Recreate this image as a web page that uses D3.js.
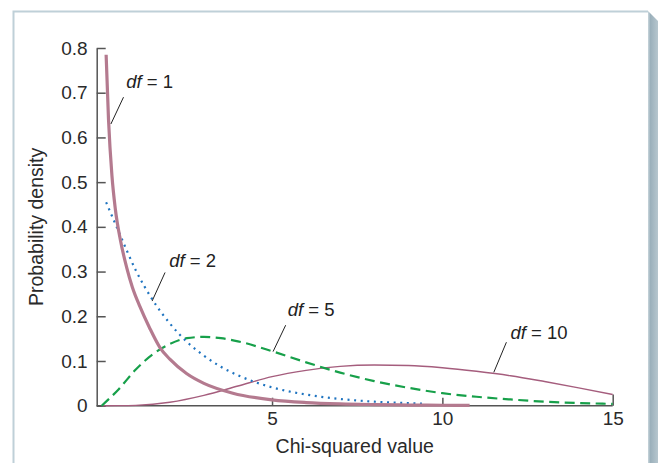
<!DOCTYPE html>
<html>
<head>
<meta charset="utf-8">
<script src="https://cdn.jsdelivr.net/npm/d3@7"></script>
<style>
  html, body { margin: 0; padding: 0; background: #fff; }
  svg { display: block; font-family: "Liberation Sans", Arial, Helvetica, sans-serif; }
</style>
</head>
<body>
<svg id="chart" width="658" height="463"></svg>
<script>
// Chi-squared densities for four degrees of freedom
const df1X = [0.13, 0.2, 0.3, 0.4, 0.55, 0.73, 0.9, 1.12, 1.4, 1.71, 2.0, 2.49, 3.0, 3.85, 5.0, 6, 7, 8, 9, 10, 10.8];
const df1Y = [0.785, 0.64, 0.515, 0.44, 0.37, 0.31, 0.265, 0.222, 0.175, 0.13, 0.104, 0.072, 0.05, 0.028, 0.013, 0.007, 0.004, 0.0025, 0.0015, 0.001, 0.0007];

const df2X = [0.13, 0.5, 1, 1.5, 2, 2.5, 3, 3.5, 4, 5, 6, 7, 8, 9, 9.4];
const df2Y = [0.455, 0.389, 0.303, 0.236, 0.184, 0.143, 0.112, 0.087, 0.068, 0.041, 0.025, 0.015, 0.009, 0.0056, 0.0045];

const df5X = [0, 0.5, 1, 1.5, 2, 2.5, 3, 3.5, 4, 5, 6, 7, 8, 9, 10, 11, 12, 13, 14, 15];
const df5Y = [0, 0.037, 0.081, 0.115, 0.138, 0.151, 0.154, 0.151, 0.144, 0.122, 0.097, 0.074, 0.055, 0.040, 0.028, 0.020, 0.014, 0.009, 0.006, 0.004];

const df10X = [0, 0.5, 1, 2, 3, 4, 5, 6, 7, 8, 9, 10, 11, 12, 13, 14, 15];
const df10Y = [0, 0.0001, 0.0008, 0.0077, 0.023, 0.044, 0.065, 0.079, 0.088, 0.091, 0.09, 0.085, 0.077, 0.067, 0.054, 0.04, 0.025];

const xTicks = [5, 10, 15];
const yTicks = [0, 0.1, 0.2, 0.3, 0.4, 0.5, 0.6, 0.7, 0.8];

// label text, label anchor (data units) and leader end on the curve (data units)
const labelNames = ["1", "2", "5", "10"];
const labelAt = [[0.72, 0.71], [1.98, 0.31], [5.46, 0.2], [12.0, 0.15]];
const leaderFrom = [[0.64, 0.69], [1.86, 0.298], [5.4, 0.18], [11.88, 0.142]];
const leaderTo = [[0.27, 0.63], [1.48, 0.234], [5.03, 0.121], [11.51, 0.0747]];

const svg = d3.select("#chart");

// panel frame
const defs = svg.append("defs");
const grad = defs.append("linearGradient").attr("id", "shade").attr("x1", 0).attr("x2", 1).attr("y1", 0).attr("y2", 0);
grad.append("stop").attr("offset", "0%").attr("stop-color", "#c9d6dc");
grad.append("stop").attr("offset", "25%").attr("stop-color", "#9bb0bb");
grad.append("stop").attr("offset", "100%").attr("stop-color", "#b6c6ce");
svg.append("path")
  .attr("d", "M648,11 L658,21 L658,463 L648,463 Z")
  .attr("fill", "url(#shade)");
svg.append("path")
  .attr("d", "M13.5,463 L13.5,11.5 L648,11.5")
  .attr("fill", "none").attr("stroke", "#bfd0d8").attr("stroke-width", 2);

const x = d3.scaleLinear().domain([0, 15]).range([101.7, 612.7]);
const y = d3.scaleLinear().domain([0, 0.8]).range([405.7, 48]);
const axisLeftX = 96.7;
const tickFont = 19;

// y axis
const yAxis = svg.append("g")
  .attr("transform", `translate(${axisLeftX},0)`)
  .call(d3.axisLeft(y).tickValues(yTicks).tickSizeInner(-9).tickSizeOuter(0).tickPadding(9)
    .tickFormat(d => d === 0 ? "0" : d3.format(".1f")(d)));
yAxis.select(".domain").attr("stroke", "#555").attr("stroke-width", 1.5);
yAxis.selectAll(".tick line").attr("stroke", "#555").attr("stroke-width", 1.5);
yAxis.selectAll(".tick text").attr("font-size", tickFont).attr("fill", "#2a2a2a")
  .attr("font-family", "Liberation Sans, Arial, sans-serif");

// x axis
const xAxis = svg.append("g")
  .attr("transform", `translate(0,${y(0)})`)
  .call(d3.axisBottom(x).tickValues(xTicks).tickSizeInner(-8).tickSizeOuter(0).tickPadding(5.8)
    .tickFormat(d3.format("d")));
xAxis.select(".domain").remove();
xAxis.selectAll(".tick line").attr("stroke", "#555").attr("stroke-width", 1.5);
// the last tick closes the df = 10 curve
xAxis.selectAll(".tick line").filter(d => d === 15).attr("y2", y(df10Y[df10Y.length - 1]) - y(0));
xAxis.selectAll(".tick text").attr("font-size", tickFont).attr("fill", "#2a2a2a")
  .attr("font-family", "Liberation Sans, Arial, sans-serif");
svg.append("line")
  .attr("x1", axisLeftX).attr("x2", x(15))
  .attr("y1", y(0)).attr("y2", y(0))
  .attr("stroke", "#555").attr("stroke-width", 1.5);

// axis titles
svg.append("text")
  .attr("x", (axisLeftX + x(15)) / 2).attr("y", 453)
  .attr("text-anchor", "middle").attr("font-size", 19.5).attr("fill", "#2a2a2a")
  .text("Chi-squared value");
svg.append("text")
  .attr("transform", `translate(43.3,${(y(0) + y(0.8)) / 2}) rotate(-90)`)
  .attr("text-anchor", "middle").attr("font-size", 19.5).attr("fill", "#2a2a2a")
  .text("Probability density");

// curves
const line = d3.line().x(d => x(d[0])).y(d => y(d[1])).curve(d3.curveMonotoneX);
const zip = (xs, ys) => xs.map((v, i) => [v, ys[i]]);

svg.append("path").datum(zip(df10X, df10Y))
  .attr("d", line).attr("fill", "none")
  .attr("stroke", "#a55d7d").attr("stroke-width", 1.4);
svg.append("path").datum(zip(df5X, df5Y))
  .attr("d", line).attr("fill", "none")
  .attr("stroke", "#17a04a").attr("stroke-width", 2.2).attr("stroke-dasharray", "10,5.5");
svg.append("path").datum(zip(df2X, df2Y))
  .attr("d", line).attr("fill", "none")
  .attr("stroke", "#1f74c0").attr("stroke-width", 2.2).attr("stroke-dasharray", "2,4.6");
svg.append("path").datum(zip(df1X, df1Y))
  .attr("d", line).attr("fill", "none")
  .attr("stroke", "#b47a8f").attr("stroke-width", 3.2).attr("stroke-linecap", "butt");

// leader lines and labels
labelNames.forEach((name, i) => {
  svg.append("line")
    .attr("x1", x(leaderFrom[i][0])).attr("y1", y(leaderFrom[i][1]))
    .attr("x2", x(leaderTo[i][0])).attr("y2", y(leaderTo[i][1]))
    .attr("stroke", "#222").attr("stroke-width", 1);
  const t = svg.append("text")
    .attr("x", x(labelAt[i][0])).attr("y", y(labelAt[i][1]))
    .attr("font-size", 18.5).attr("fill", "#222");
  t.append("tspan").attr("font-style", "italic").text("df");
  t.append("tspan").text(" = " + name);
});
</script>
</body>
</html>
